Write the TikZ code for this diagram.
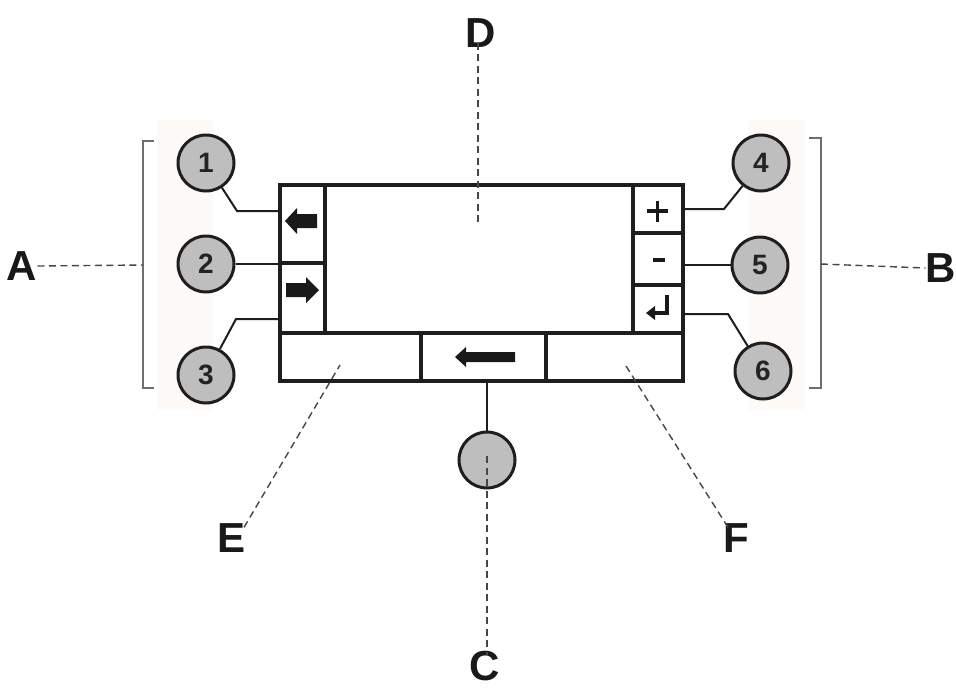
\documentclass[tikz,border=0pt]{standalone}
\usepackage{fontspec}
\setmainfont{Liberation Sans}
\definecolor{inkc}{RGB}{30,30,30}
\definecolor{knobfill}{RGB}{190,190,190}
\definecolor{digitc}{RGB}{35,35,35}
\definecolor{bracketc}{RGB}{110,110,110}
\definecolor{pointerc}{RGB}{70,70,70}
\definecolor{letterc}{RGB}{25,25,25}
\definecolor{panelc}{RGB}{254,250,247}
\begin{document}
\begin{tikzpicture}[x=1pt,y=-1pt,
  ink/.style={draw=inkc},
  cell/.style={ink, rectangle, line width=3.2pt, minimum width=#1, inner sep=0pt},
  knob/.style={ink, circle, line width=3pt, minimum size=56pt, inner sep=0pt,
    fill=knobfill, font=\bfseries\fontsize{28}{28}\selectfont, text=digitc},
  leader/.style={ink, line width=2pt},
  bracket/.style={draw=bracketc, line width=1.4pt},
  pointer/.style={draw=pointerc, line width=1.4pt, dash pattern=on 7pt off 4.5pt},
  letter/.style={font=\bfseries\fontsize{42}{42}\selectfont, text=letterc, inner sep=0pt},
  glyph/.style={fill=letterc},
  symline/.style={draw=letterc, line width=3.6pt}
]
\useasboundingbox (0,0) rectangle (956,689);
\fill[white] (0,0) rectangle (956,689);

% faint panels behind the knob columns
\fill[panelc] (157,120) rectangle (213,410);
\fill[panelc] (748,120) rectangle (805,410);

% display housing
\node[cell=308pt, minimum height=148pt] (screen) at (479,259) {};
\node[cell=45pt, minimum height=78pt] (bL1) at (302.5,224) {};
\node[cell=45pt, minimum height=70pt] (bL2) at (302.5,298) {};
\node[cell=50pt, minimum height=48pt] (bR1) at (658,209) {};
\node[cell=50pt, minimum height=52pt] (bR2) at (658,259) {};
\node[cell=50pt, minimum height=48pt] (bR3) at (658,309) {};
\node[cell=141pt, minimum height=48pt] (bB1) at (350.5,357) {};
\node[cell=125pt, minimum height=48pt] (bB2) at (483.5,357) {};
\node[cell=137pt, minimum height=48pt] (bB3) at (614.5,357) {};

% button symbols
\fill[glyph] (285,221) -- (297,208) -- (297,214) -- (317,214) -- (317,228) -- (297,228) -- (297,234) -- cycle;
\fill[glyph] (319,290) -- (306,277) -- (306,283) -- (286,283) -- (286,297) -- (306,297) -- (306,303) -- cycle;
\fill[glyph] (455,357) -- (466,347) -- (466,352) -- (515,352) -- (515,362) -- (466,362) -- (466,367) -- cycle;
\draw[symline] (647,211) -- (668,211) (657.5,200.5) -- (657.5,221.5);
\draw[symline] (653,260) -- (665,260);
\draw[symline, line cap=butt] (667,295) -- (667,313) -- (654,313);
\fill[glyph] (646,313) -- (655,306) -- (655,320) -- cycle;

% knobs
\node[knob] (c1) at (206,163) {1};
\node[knob] (c2) at (206,264) {2};
\node[knob] (c3) at (206,375) {3};
\node[knob] (c4) at (761,163) {4};
\node[knob] (c5) at (760,265) {5};
\node[knob] (c6) at (763,371) {6};
\node[knob] (cC) at (487,460) {};

% knob leaders
\coordinate (k1) at (237,211);
\coordinate (k3) at (236,319);
\coordinate (k4) at (724,209);
\coordinate (k6) at (728,314);
\draw[leader] (c1) -- (k1) -- (k1 -| bL1.west);
\draw[leader] (c2) -- (c2 -| bL1.west);
\draw[leader] (c3) -- (k3) -- (k3 -| bL2.west);
\draw[leader] (c4) -- (k4) -- (k4 -| bR1.east);
\draw[leader] (c5) -- (c5 -| bR2.east);
\draw[leader] (c6) -- (k6) -- (k6 -| bR3.east);
\draw[leader] (cC) -- (cC |- bB2.south);

% group brackets
\draw[bracket] (154,141) -- (143,141) -- (143,388) -- (154,388);
\draw[bracket] (809,138) -- (821,138) -- (821,388) -- (809,388);
\coordinate (gA) at (143,265);
\coordinate (gB) at (821,264);

% labels
\node[letter] (lA) at (22,266) {A};
\node[letter] (lB) at (941,268) {B};
\node[letter] (lC) at (485,666) {C};
\node[letter] (lD) at (481,33) {D};
\node[letter] (lE) at (232,538) {E};
\node[letter] (lF) at (736,538) {F};

% label pointers
\coordinate (pD) at (478,222);
\coordinate (pE) at (340,365);
\coordinate (pF) at (626,366);
\coordinate (pC) at (487,456);
\draw[pointer] (lA.east) -- (gA);
\draw[pointer] (gB) -- (lB.west);
\draw[pointer] ([yshift=5pt]lD.south -| pD) -- (pD);
\draw[pointer] ([xshift=12pt,yshift=-4pt]lE.north) -- (pE);
\draw[pointer] ([xshift=-8pt,yshift=-4pt]lF.north) -- (pF);
\draw[pointer] (pC) -- ([yshift=-4pt]lC.north -| pC);
\end{tikzpicture}
\end{document}
